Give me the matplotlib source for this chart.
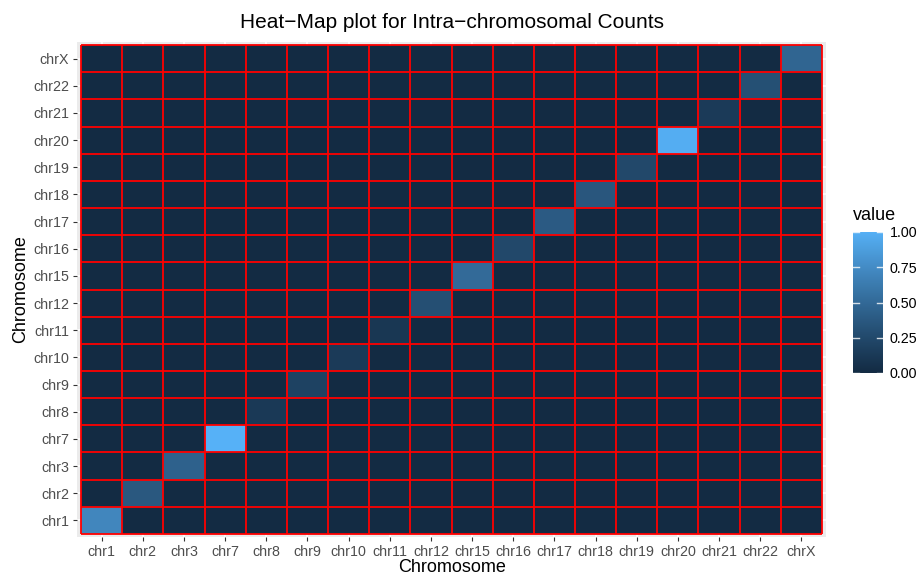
import numpy as np
import matplotlib
matplotlib.use("Agg")
import matplotlib.pyplot as plt
from matplotlib.colors import ListedColormap, Normalize

plt.rcParams['font.family'] = ['Liberation Sans', 'DejaVu Sans']

chromosomes = ["chr1", "chr2", "chr3", "chr7", "chr8", "chr9", "chr10", "chr11",
               "chr12", "chr15", "chr16", "chr17", "chr18", "chr19", "chr20",
               "chr21", "chr22", "chrX"]
diagonal_values = [0.70, 0.36, 0.43, 1.00, 0.12, 0.19, 0.13, 0.10, 0.29, 0.50,
                   0.24, 0.38, 0.35, 0.24, 0.97, 0.13, 0.30, 0.46]
off_diagonal_value = 0.0
legend_ticks = [0.00, 0.25, 0.50, 0.75, 1.00]

n = len(chromosomes)
matrix = np.full((n, n), off_diagonal_value)
np.fill_diagonal(matrix, diagonal_values)

# ggplot2 default continuous gradient (#132B43 -> #56B1F7), interpolated in Lab
def hex2rgb(h):
    h = h.lstrip('#')
    return np.array([int(h[i:i + 2], 16) / 255 for i in (0, 2, 4)])

def srgb2lin(c):
    return np.where(c <= 0.04045, c / 12.92, ((c + 0.055) / 1.055) ** 2.4)

def lin2srgb(c):
    c = np.clip(c, 0, 1)
    return np.where(c <= 0.0031308, 12.92 * c, 1.055 * c ** (1 / 2.4) - 0.055)

M = np.array([[0.4124, 0.3576, 0.1805], [0.2126, 0.7152, 0.0722], [0.0193, 0.1192, 0.9505]])
Minv = np.linalg.inv(M)
white = np.array([0.95047, 1.0, 1.08883])

def f(t):
    d = 6 / 29
    return np.where(t > d ** 3, np.cbrt(t), t / (3 * d * d) + 4 / 29)

def finv(t):
    d = 6 / 29
    return np.where(t > d, t ** 3, 3 * d * d * (t - 4 / 29))

def rgb2lab(rgb):
    xyz = M @ srgb2lin(rgb) / white
    fx, fy, fz = f(xyz)
    return np.array([116 * fy - 16, 500 * (fx - fy), 200 * (fy - fz)])

def lab2rgb(lab):
    L, a, b = lab
    fy = (L + 16) / 116
    fx = fy + a / 500
    fz = fy - b / 200
    xyz = np.array([finv(fx), finv(fy), finv(fz)]) * white
    return lin2srgb(Minv @ xyz)

lo, hi = rgb2lab(hex2rgb('#132B43')), rgb2lab(hex2rgb('#56B1F7'))
cols = [lab2rgb(lo + (hi - lo) * t) for t in np.linspace(0, 1, 256)]
cmap = ListedColormap(cols)
norm = Normalize(0, 1)

fig = plt.figure(figsize=(9.21, 5.77), dpi=100)
ax = fig.add_axes([77 / 921, 1 - 536.7 / 577, 749 / 921, 494.4 / 577])
ax.set_facecolor('#EBEBEB')
ax.set_axisbelow(True)
ax.grid(True, color='white', linewidth=1.1)
idx = np.arange(n)
edges = np.arange(n + 1) - 0.5
ax.pcolormesh(edges, edges, matrix, cmap=cmap, norm=norm, zorder=2)
ax.hlines(edges, edges[0], edges[-1], colors='#FF0000', linewidth=1.3, zorder=3)
ax.vlines(edges, edges[0], edges[-1], colors='#FF0000', linewidth=1.3, zorder=3)
ax.set_xlim(-0.6, n - 0.4)
ax.set_ylim(-0.6, n - 0.4)
ax.set_xticks(idx)
ax.set_yticks(idx)
ax.set_xticklabels(chromosomes)
ax.set_yticklabels(chromosomes)
for s in ax.spines.values():
    s.set_visible(False)
ax.tick_params(axis='both', length=3.2, width=0.8, color='#333333',
               labelcolor='#4D4D4D', labelsize=10.3, pad=2.5)
ax.set_xlabel('')
ax.set_ylabel('Chromosome', fontsize=13, color='black', labelpad=3)
fig.text(452 / 921, 1 - 568 / 577, 'Chromosome', ha='center', va='center',
         fontsize=13, color='black')
fig.text(452 / 921, 1 - 23 / 577, 'Heat\u2212Map plot for Intra\u2212chromosomal Counts',
         ha='center', va='center', fontsize=15, color='black')

# colorbar legend
cax = fig.add_axes([853 / 921, 1 - 373 / 577, 30 / 921, 141 / 577])
grad = np.linspace(0, 1, 256).reshape(-1, 1)
cax.imshow(grad, aspect='auto', cmap=cmap, norm=norm, origin='lower',
           extent=[0, 1, 0, 1])
cax.set_xlim(0, 1)
cax.set_ylim(0, 1)
for t in legend_ticks:
    cax.plot([0, 0.2], [t, t], color='white', lw=1.0, alpha=0.8)
    cax.plot([0.8, 1], [t, t], color='white', lw=1.0, alpha=0.8)
cax.set_xticks([])
cax.set_yticks(legend_ticks)
cax.set_yticklabels([f'{t:.2f}' for t in legend_ticks])
cax.yaxis.tick_right()
cax.tick_params(axis='y', length=0, labelsize=10.3, labelcolor='black', pad=5)
for s in cax.spines.values():
    s.set_visible(False)
fig.text(853 / 921, 1 - 216 / 577, 'value', ha='left', va='center', fontsize=13)

fig.savefig('out.png', dpi=100)
